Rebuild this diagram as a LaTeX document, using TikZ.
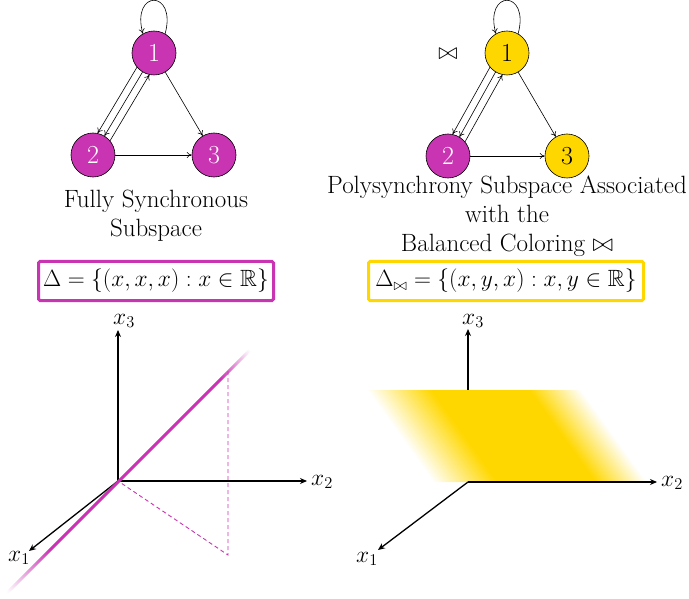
\documentclass[tikz,border=0pt]{standalone}
\usepackage{fix-cm}
\usepackage{amsmath,amssymb}
\usepackage{fontspec}
\usetikzlibrary{arrows.meta}
\definecolor{mag}{RGB}{201,52,178}
\definecolor{goldy}{RGB}{255,215,0}
\pgfdeclarehorizontalshading{planeshade}{100bp}{color(0bp)=(white); color(25bp)=(white); color(40bp)=(goldy); color(63bp)=(goldy); color(75bp)=(white); color(100bp)=(white)}
\pgfdeclarehorizontalshading{lineshade}{100bp}{color(0bp)=(white); color(25bp)=(white); color(34bp)=(mag); color(69bp)=(mag); color(75bp)=(white); color(100bp)=(white)}
\begin{document}
\begin{tikzpicture}[x=1pt,y=1pt,
  vert/.style={circle,draw=black,line width=0.6pt,minimum size=44pt,inner sep=0pt,font=\fontsize{26}{26}\selectfont},
  magv/.style={vert,fill=mag,text=white},
  goldv/.style={vert,fill=goldy,text=black},
  arc/.style={-{To[length=5pt,width=6pt]},line width=0.6pt},
  axis/.style={-{Stealth[length=7pt,width=6pt]},line width=1.3pt},
  caption/.style={align=center,font=\fontsize{25}{29}\selectfont},
  formula/.style={draw,line width=3pt,rounded corners=1.5pt,inner sep=0pt,minimum height=39pt,font=\fontsize{23.5}{26}\selectfont},
  lab/.style={font=\fontsize{23.5}{26}\selectfont,inner sep=0pt}]
\useasboundingbox (0,0) rectangle (689,-599);

% left graph
\node[magv] (a1) at (154,-53) {1};
\node[magv] (a2) at (93,-155) {2};
\node[magv] (a3) at (214,-155) {3};
\draw[arc] (a1.60) .. controls +(75:46) and +(105:46) .. (a1.120);
\draw[arc] (a1.220) -- (a2.78);
\draw[arc] (a1.239) -- (a2.59);
\draw[arc] (a2.40) -- (a1.258);
\draw[arc] (a1) -- (a3);
\draw[arc] (a2) -- (a3);

% right graph
\node[goldv] (b1) at (507,-53) {1};
\node[magv] (b2) at (448,-156) {2};
\node[goldv] (b3) at (567,-156) {3};
\node[lab] (bow) at (448,-54) {$\bowtie$};
\draw[arc] (b1.60) .. controls +(75:46) and +(105:46) .. (b1.120);
\draw[arc] (b1.220) -- (b2.78);
\draw[arc] (b1.239) -- (b2.59);
\draw[arc] (b2.40) -- (b1.258);
\draw[arc] (b1) -- (b3);
\draw[arc] (b2) -- (b3);

% captions
\node[caption] (capL) at (156,-216) {Fully Synchronous\\Subspace};
\node[caption] (capR) at (507,-216) {Polysynchrony Subspace Associated\\with the\\Balanced Coloring $\bowtie$};

% formulas
\node[formula,draw=mag,minimum width=235pt] (fL) at (156,-281) {$\Delta = \{(x,x,x) : x\in\mathbb{R}\}$};
\node[formula,draw=goldy,minimum width=275pt] (fR) at (506,-281) {$\Delta_{\bowtie} = \{(x,y,x) : x,y\in\mathbb{R}\}$};

% left axes
\coordinate (o1) at (118,-481);
\coordinate (e13) at (118,-330);
\coordinate (e12) at (307,-481);
\coordinate (e11) at (29,-551);
\draw[axis] (o1) -- (e13);
\draw[axis] (o1) -- (e12);
\draw[axis] (o1) -- (e11);
\node[lab] (l13) at (124,-321) {$x_3$};
\node[lab] (l12) at (322,-482) {$x_2$};
\node[lab] (l11) at (19,-558) {$x_1$};
\begin{scope}[transform canvas={shift={(7,-593)},rotate=45}]
  \shade[shading=lineshade] (0,-1.5) rectangle (343.6,1.5);
\end{scope}
\coordinate (dtop) at (228,-371);
\coordinate (dbot) at (228,-555);
\draw[mag,line width=0.9pt,dash pattern=on 4pt off 3pt] (dtop) -- (dbot) -- (o1);

% right axes
\coordinate (o2) at (468,-482);
\coordinate (e23) at (468,-329);
\coordinate (e22) at (657,-482);
\coordinate (e21) at (378,-550);
\draw[axis] (o2) -- (e23);
\begin{scope}[transform canvas={shift={(433,-482)},xslant=-0.7174}]
  \shade[shading=planeshade] (0,0) rectangle (214,92);
\end{scope}
\draw[axis] (o2) -- (e22);
\draw[axis] (o2) -- (e21);
\node[lab] (l23) at (473,-321) {$x_3$};
\node[lab] (l22) at (672,-483) {$x_2$};
\node[lab] (l21) at (367,-559) {$x_1$};
\end{tikzpicture}
\end{document}
